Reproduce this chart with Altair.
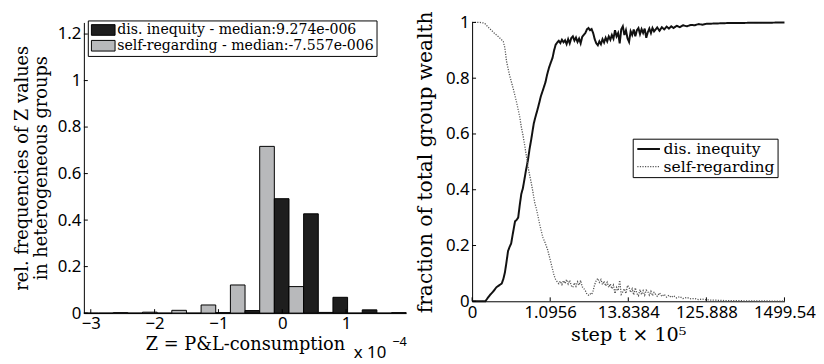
import json
import altair as alt
import pandas as pd

# ---------------- left panel: histogram of Z ----------------
bin_centers = [-2.878, -2.419, -1.960, -1.501, -1.042, -0.583, -0.124, 0.335, 0.794, 1.253, 1.712]
dis_freq = [0.0, 0.0, 0.0, 0.0, 0.002, 0.011, 0.492, 0.427, 0.068, 0.014, 0.002]
self_freq = [0.0, 0.002, 0.004, 0.012, 0.035, 0.121, 0.717, 0.114, 0.003, 0.0, 0.0]
bin_width = 0.459
hist_labels = ["dis. inequity - median:9.274e-006", "self-regarding - median:-7.557e-006"]
hist_colors = ["#1e1e1e", "#b8b9bb"]
left_xticks = [-3, -2, -1, 0, 1]
left_yticks = [0, 0.2, 0.4, 0.6, 0.8, 1.0, 1.2]

# ---------------- right panel: wealth fractions ----------------
dis_u = [0.00, 0.10, 0.17, 0.20, 0.23, 0.27, 0.31, 0.35, 0.38, 0.40, 0.42, 0.44, 0.46, 0.48, 0.50,
         0.52, 0.55, 0.57, 0.59, 0.61, 0.63, 0.65, 0.67, 0.69, 0.715, 0.735, 0.757, 0.775, 0.79, 0.81,
         0.84, 0.86, 0.88, 0.91, 0.94, 0.96, 0.985, 1.01, 1.03, 1.05, 1.07, 1.09, 1.11, 1.13, 1.15,
         1.17, 1.19, 1.21, 1.23, 1.25, 1.27, 1.29, 1.31, 1.33, 1.35, 1.37, 1.39, 1.41, 1.43, 1.45,
         1.47, 1.49, 1.51, 1.53, 1.55, 1.57, 1.59, 1.61, 1.63, 1.65, 1.67, 1.69, 1.71, 1.73, 1.75,
         1.77, 1.79, 1.81, 1.83, 1.85, 1.87, 1.89, 1.91, 1.93, 1.95, 1.97, 1.99, 2.01, 2.03, 2.05,
         2.07, 2.09, 2.11, 2.13, 2.15, 2.17, 2.19, 2.21, 2.23, 2.25, 2.27, 2.29, 2.31, 2.33, 2.35,
         2.37, 2.40, 2.43, 2.46, 2.49, 2.52, 2.55, 2.58, 2.62, 2.66, 2.70, 2.75, 2.80, 2.85, 2.90,
         2.95, 3.00, 3.10, 3.20, 3.30, 3.45, 3.60, 3.80, 4.00]
dis_v = [0.000, 0.000, 0.000, 0.012, 0.023, 0.035, 0.050, 0.058, 0.064, 0.080, 0.103, 0.140, 0.180, 0.195, 0.207,
         0.240, 0.287, 0.292, 0.300, 0.345, 0.385, 0.405, 0.437, 0.470, 0.506, 0.545, 0.580, 0.612, 0.638, 0.660,
         0.690, 0.712, 0.735, 0.760, 0.786, 0.812, 0.838, 0.858, 0.873, 0.900, 0.920, 0.928, 0.934, 0.926, 0.938,
         0.929, 0.936, 0.922, 0.940, 0.925, 0.944, 0.950, 0.935, 0.946, 0.930, 0.942, 0.925, 0.948, 0.955, 0.962,
         0.975, 0.980, 0.972, 0.976, 0.962, 0.940, 0.925, 0.918, 0.932, 0.922, 0.940, 0.928, 0.945, 0.932, 0.950,
         0.938, 0.955, 0.942, 0.972, 0.950, 0.962, 0.925, 0.975, 0.986, 0.955, 0.972, 0.943, 0.930, 0.968, 0.955,
         0.975, 0.950, 0.972, 0.980, 0.958, 0.976, 0.962, 0.978, 0.945, 0.965, 0.978, 0.962, 0.980, 0.968, 0.975,
         0.982, 0.970, 0.983, 0.975, 0.985, 0.978, 0.986, 0.980, 0.988, 0.983, 0.990, 0.986, 0.991, 0.990, 0.994,
         0.992, 0.995, 0.996, 0.997, 0.998, 0.998, 0.999, 0.999, 1.000]
self_u = [0.00, 0.10, 0.15, 0.17, 0.21, 0.25, 0.29, 0.34, 0.37, 0.40, 0.42, 0.44, 0.46, 0.48, 0.50,
          0.53, 0.57, 0.61, 0.63, 0.65, 0.67, 0.69, 0.715, 0.735, 0.757, 0.78, 0.80, 0.82, 0.84, 0.87,
          0.905, 0.935, 0.968, 0.99, 1.01, 1.03, 1.05, 1.07, 1.09, 1.11, 1.13, 1.15, 1.17, 1.19, 1.21,
          1.23, 1.25, 1.27, 1.29, 1.31, 1.33, 1.35, 1.37, 1.39, 1.41, 1.43, 1.45, 1.47, 1.49, 1.51,
          1.53, 1.55, 1.57, 1.59, 1.61, 1.63, 1.65, 1.67, 1.69, 1.71, 1.73, 1.75, 1.77, 1.79, 1.81,
          1.83, 1.85, 1.87, 1.89, 1.91, 1.93, 1.95, 1.97, 1.99, 2.01, 2.03, 2.05, 2.07, 2.09, 2.11,
          2.13, 2.15, 2.17, 2.19, 2.21, 2.23, 2.25, 2.27, 2.29, 2.31, 2.33, 2.35, 2.37, 2.40, 2.43,
          2.46, 2.49, 2.52, 2.55, 2.58, 2.62, 2.66, 2.70, 2.75, 2.80, 2.85, 2.90, 2.95, 3.00, 3.10,
          3.20, 3.30, 3.45, 3.60, 3.80, 4.00]
self_v = [1.000, 1.000, 0.998, 0.994, 0.982, 0.971, 0.960, 0.948, 0.940, 0.931, 0.908, 0.862, 0.835, 0.810, 0.790,
          0.759, 0.713, 0.661, 0.625, 0.598, 0.565, 0.530, 0.483, 0.455, 0.425, 0.390, 0.356, 0.335, 0.310, 0.270,
          0.230, 0.210, 0.184, 0.160, 0.138, 0.115, 0.092, 0.078, 0.070, 0.063, 0.072, 0.060, 0.074, 0.064, 0.078,
          0.062, 0.075, 0.056, 0.050, 0.066, 0.054, 0.070, 0.058, 0.075, 0.052, 0.046, 0.038, 0.026, 0.022, 0.027,
          0.024, 0.038, 0.060, 0.075, 0.082, 0.068, 0.078, 0.060, 0.072, 0.055, 0.068, 0.050, 0.062, 0.045, 0.058,
          0.028, 0.050, 0.038, 0.075, 0.025, 0.034, 0.045, 0.028, 0.057, 0.050, 0.032, 0.045, 0.023, 0.048, 0.028,
          0.020, 0.042, 0.024, 0.038, 0.022, 0.040, 0.035, 0.022, 0.036, 0.020, 0.032, 0.025, 0.018, 0.030, 0.017,
          0.025, 0.015, 0.022, 0.014, 0.020, 0.012, 0.017, 0.010, 0.014, 0.009, 0.010, 0.006, 0.008, 0.005, 0.004,
          0.003, 0.002, 0.002, 0.001, 0.001, 0.000]
line_labels = ["dis. inequity", "self-regarding"]
right_tick_labels = ["0", "1.0956", "13.8384", "125.888", "1499.54"]
right_xticks = [0, 1, 2, 3, 4]
right_yticks = [0, 0.2, 0.4, 0.6, 0.8, 1.0]

SERIF = "DejaVu Serif"
SANS = "Noto Sans"

# ---------------- build left chart ----------------
rows = []
for c, d, s in zip(bin_centers, dis_freq, self_freq):
    rows.append({"series": hist_labels[1], "x0": c - bin_width / 2, "x1": c, "freq": s})
    rows.append({"series": hist_labels[0], "x0": c, "x1": c + bin_width / 2, "freq": d})
hist_df = pd.DataFrame(rows)

LW, LH = 327, 295
lxs = alt.Scale(domain=[-3.108, 1.94], nice=False, zero=False)
lys = alt.Scale(domain=[0, 1.25], nice=False)
lxa = alt.Axis(values=left_xticks, title="Z = P&L-consumption", titlePadding=4, titleFontSize=18)
lya = alt.Axis(values=left_yticks, format="~g",
               title=["rel. frequencies of Z values", "in heterogeneous groups"],
               titleFontSize=18, titleLineHeight=19, titlePadding=7)

bars = alt.Chart(hist_df).mark_bar(stroke="black", strokeWidth=1, opacity=1).encode(
    x=alt.X("x0:Q", scale=lxs, axis=lxa),
    x2="x1:Q",
    y=alt.Y("freq:Q", scale=lys, axis=lya),
    y2=alt.datum(0),
    color=alt.Color("series:N", scale=alt.Scale(domain=hist_labels, range=hist_colors),
                    legend=alt.Legend(title=None, orient="none", legendX=4, legendY=-2,
                                      strokeColor="black", fillColor="white", padding=2.5,
                                      symbolType="M-1,-0.9H3V0.9H-1Z", symbolSize=144,
                                      symbolStrokeColor="black", symbolStrokeWidth=1, symbolOpacity=1,
                                      labelFont=SERIF, labelFontSize=14.3, labelColor="black",
                                      labelOffset=13, labelLimit=500, rowPadding=0, cornerRadius=0)),
)

lxt = alt.Chart(pd.DataFrame({"x0": left_xticks})).mark_rule(color="black", strokeWidth=1).encode(
    x=alt.X("x0:Q", scale=lxs, axis=lxa), y=alt.value(LH), y2=alt.value(LH - 4))
lyt = alt.Chart(pd.DataFrame({"freq": left_yticks})).mark_rule(color="black", strokeWidth=1).encode(
    y=alt.Y("freq:Q", scale=lys, axis=lya), x=alt.value(0), x2=alt.value(4))
exp_base = alt.Chart(pd.DataFrame({"a": [0]})).mark_text(
    align="left", baseline="alphabetic", font=SANS, fontSize=17, color="black").encode(
    x=alt.value(274), y=alt.value(LH + 46), text=alt.value("x 10"))
exp_sup = alt.Chart(pd.DataFrame({"a": [0]})).mark_text(
    align="left", baseline="alphabetic", font=SANS, fontSize=13, color="black").encode(
    x=alt.value(313), y=alt.value(LH + 33), text=alt.value("\u22124"))

left = alt.layer(bars, lxt, lyt, exp_base, exp_sup).properties(width=LW, height=LH)

# ---------------- build right chart ----------------
line_df = pd.concat([
    pd.DataFrame({"series": line_labels[0], "u": dis_u, "v": dis_v}),
    pd.DataFrame({"series": line_labels[1], "u": self_u, "v": self_v}),
])

RW, RH = 317, 283
rxs = alt.Scale(domain=[0, 4], nice=False, zero=False)
rys = alt.Scale(domain=[0, 1], nice=False)
rxa = alt.Axis(values=right_xticks, labelExpr=json.dumps(right_tick_labels) + "[datum.value]",
               title="step t \u00d7 10\u2075", titlePadding=6, titleFontSize=19.5)
rya = alt.Axis(values=right_yticks, format="~g", title="fraction of total group wealth",
               titlePadding=10, titleFontSize=20.5)

rleg = dict(title=None, orient="none", legendX=163, legendY=118,
            strokeColor="black", fillColor="white", padding=2.5, symbolType="M-1,0H3",
            symbolSize=132, labelFont=SERIF, labelFontSize=15.8, labelColor="black",
            labelOffset=13, labelLimit=500, rowPadding=1, cornerRadius=0)

lines = alt.Chart(line_df).mark_line().encode(
    x=alt.X("u:Q", scale=rxs, axis=rxa),
    y=alt.Y("v:Q", scale=rys, axis=rya),
    color=alt.Color("series:N", scale=alt.Scale(domain=line_labels, range=["#111111", "#555555"]),
                    legend=alt.Legend(**rleg)),
    strokeDash=alt.StrokeDash("series:N", scale=alt.Scale(domain=line_labels, range=[[1, 0], [1.2, 1.4]]),
                              legend=alt.Legend(**rleg)),
    strokeWidth=alt.StrokeWidth("series:N", scale=alt.Scale(domain=line_labels, range=[2, 1.3]),
                                legend=alt.Legend(**rleg)),
)
rxt = alt.Chart(pd.DataFrame({"u": right_xticks})).mark_rule(color="black", strokeWidth=1).encode(
    x=alt.X("u:Q", scale=rxs, axis=rxa), y=alt.value(RH), y2=alt.value(RH - 4))
ryt = alt.Chart(pd.DataFrame({"v": right_yticks})).mark_rule(color="black", strokeWidth=1).encode(
    y=alt.Y("v:Q", scale=rys, axis=rya), x=alt.value(0), x2=alt.value(4))

right = alt.layer(lines, rxt, ryt).properties(width=RW, height=RH)

chart = alt.hconcat(left, right, spacing=8).resolve_scale(
    color="independent", strokeDash="independent", strokeWidth="independent"
).resolve_legend(
    color="independent", strokeDash="independent", strokeWidth="independent"
).properties(
    padding={"left": 5, "top": 0, "right": 0, "bottom": 0}
).configure_view(stroke=None).configure_axis(
    grid=False, ticks=False, domainColor="black", domainWidth=1,
    labelFont=SANS, labelFontSize=17, labelColor="black", labelPadding=3,
    labelFlush=False, labelOverlap=False,
    titleFont=SERIF, titleFontWeight="normal", titleColor="black",
)

chart.save("out.html", embed_options={"renderer": "svg", "actions": False})
